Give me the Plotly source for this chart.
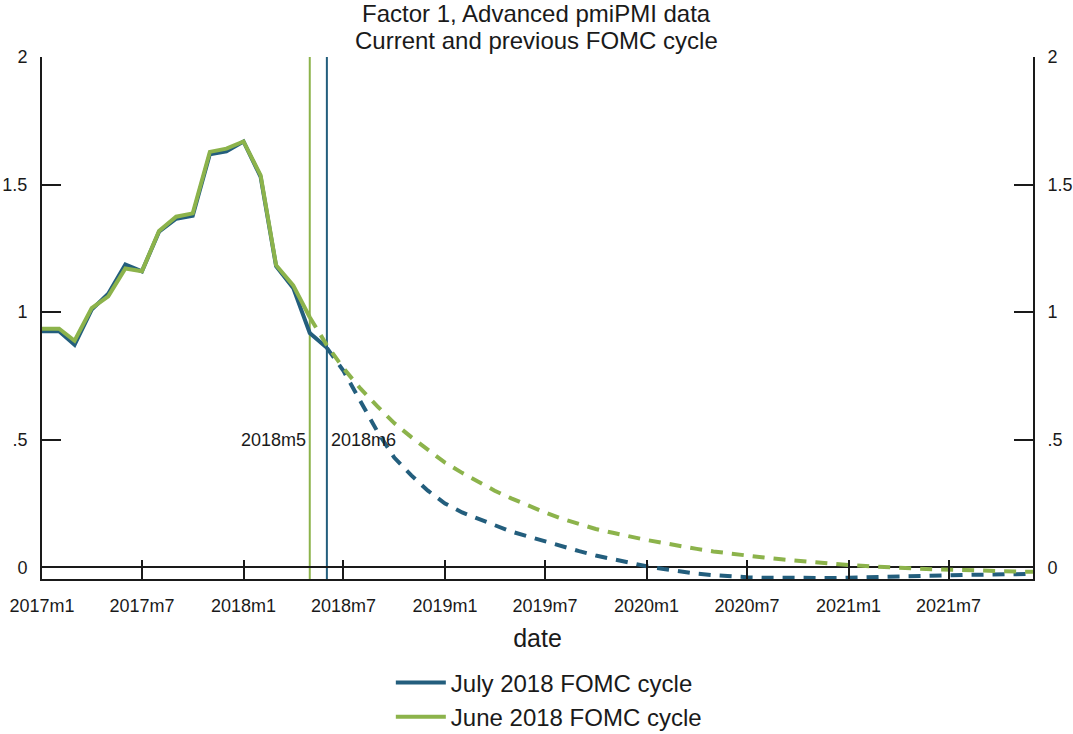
import pandas as pd
import plotly.graph_objects as go

# Monthly axis, 2017m1 .. 2021m12
months = pd.date_range("2017-01-01", "2021-12-01", freq="MS")

# July 2018 FOMC cycle: observed factor (2017m1..2018m6) and projection (2018m6..2021m12)
july_actual = [0.925, 0.925, 0.872, 1.010, 1.072, 1.187, 1.160, 1.315, 1.366, 1.378,
               1.619, 1.630, 1.669, 1.530, 1.180, 1.095, 0.918, 0.860]
july_forecast = [0.86, 0.77, 0.65, 0.53, 0.43, 0.36, 0.30, 0.25, 0.215, 0.19,
                 0.165, 0.14, 0.12, 0.10, 0.08, 0.063, 0.046, 0.031, 0.017, 0.004,
                 -0.007, -0.017, -0.025, -0.031, -0.036, -0.039, -0.041, -0.042, -0.043, -0.043,
                 -0.042, -0.041, -0.040, -0.038, -0.037, -0.035, -0.033, -0.032, -0.030, -0.029,
                 -0.028, -0.027, -0.026]

# June 2018 FOMC cycle: observed factor (2017m1..2018m5) and projection (2018m5..2021m12)
june_actual = [0.935, 0.935, 0.888, 1.016, 1.062, 1.171, 1.160, 1.318, 1.374, 1.387,
               1.628, 1.641, 1.669, 1.536, 1.184, 1.105, 0.980]
june_forecast = [0.98, 0.87, 0.78, 0.70, 0.63, 0.565, 0.51, 0.46, 0.41, 0.37,
                 0.335, 0.30, 0.27, 0.24, 0.215, 0.19, 0.17, 0.15, 0.135, 0.12,
                 0.107, 0.095, 0.083, 0.072, 0.062, 0.053, 0.045, 0.038, 0.031, 0.025,
                 0.019, 0.014, 0.009, 0.005, 0.001, -0.002, -0.005, -0.008, -0.010, -0.012,
                 -0.014, -0.016, -0.017, -0.018]

# Vertical markers for the two cycles
cycle_dates = ["2018-05-01", "2018-06-01"]
cycle_labels = ["2018m5", "2018m6"]

# Axis ticks
x_tickvals = pd.date_range("2017-01-01", "2021-07-01", freq="6MS")
x_ticktext = [f"{d.year}m{d.month}" for d in x_tickvals]
y_tickvals = [0, 0.5, 1, 1.5, 2]
y_ticktext = ["0", ".5", "1", "1.5", "2"]

BLUE = "#235e7d"
GREEN = "#8cb34b"
INK = "#1a1a1a"
FONT = "Liberation Sans, Arial, sans-serif"
Y_MIN, Y_MAX = -0.046, 2.0

n_july = len(july_actual)
n_june = len(june_actual)

fig = go.Figure()

fig.add_trace(go.Scatter(
    x=months[:n_july], y=july_actual, mode="lines",
    line=dict(color=BLUE, width=4), name="July 2018 FOMC cycle"))
fig.add_trace(go.Scatter(
    x=months[n_july - 1:], y=july_forecast, mode="lines",
    line=dict(color=BLUE, width=4, dash="12px,9px"), showlegend=False))
fig.add_trace(go.Scatter(
    x=months[:n_june], y=june_actual, mode="lines",
    line=dict(color=GREEN, width=4), name="June 2018 FOMC cycle"))
fig.add_trace(go.Scatter(
    x=months[n_june - 1:], y=june_forecast, mode="lines",
    line=dict(color=GREEN, width=4, dash="12px,9px"), showlegend=False))

# carrier trace so the right-hand axis is drawn
fig.add_trace(go.Scatter(
    x=months[:n_july], y=july_actual, yaxis="y2", mode="lines",
    line=dict(color="rgba(0,0,0,0)", width=0), showlegend=False, hoverinfo="skip"))

for d, col in zip(cycle_dates, [GREEN, BLUE]):
    fig.add_shape(type="line", xref="x", yref="y", x0=d, x1=d, y0=Y_MIN, y1=Y_MAX,
                  line=dict(color=col, width=2), layer="below")

fig.add_annotation(x=cycle_dates[0], y=0.5, xref="x", yref="y", text=cycle_labels[0],
                   showarrow=False, xanchor="right", xshift=-2,
                   font=dict(size=18, color=INK, family=FONT))
fig.add_annotation(x=cycle_dates[1], y=0.5, xref="x", yref="y", text=cycle_labels[1],
                   showarrow=False, xanchor="left", xshift=2,
                   font=dict(size=18, color=INK, family=FONT))

# two-line title
fig.add_annotation(x=0.4988, y=1, xref="paper", yref="paper", yshift=44,
                   text="Factor 1, Advanced pmiPMI data", showarrow=False,
                   xanchor="center", yanchor="middle",
                   font=dict(size=24, color=INK, family=FONT))
fig.add_annotation(x=0.4988, y=1, xref="paper", yref="paper", yshift=17,
                   text="Current and previous FOMC cycle", showarrow=False,
                   xanchor="center", yanchor="middle",
                   font=dict(size=24, color=INK, family=FONT))

yaxis_common = dict(
    range=[Y_MIN, Y_MAX], tickmode="array", tickvals=y_tickvals, ticktext=y_ticktext,
    ticks="inside", ticklen=19, tickwidth=2, tickcolor=INK,
    showline=True, linecolor=INK, linewidth=2, showgrid=False,
    tickfont=dict(size=18, color=INK, family=FONT), fixedrange=True,
    ticklabelstandoff=9,
)

fig.update_layout(
    width=1073, height=734,
    margin=dict(l=42, r=40, t=57, b=155, autoexpand=False),
    paper_bgcolor="white", plot_bgcolor="white",
    font=dict(family=FONT, color=INK),
    xaxis=dict(
        range=[months[0], months[-1]], tickmode="array",
        tickvals=x_tickvals, ticktext=x_ticktext,
        ticks="inside", ticklen=19, tickwidth=2, tickcolor=INK,
        showline=True, linecolor=INK, linewidth=2, showgrid=False, zeroline=False,
        tickfont=dict(size=18, color=INK, family=FONT), ticklabelstandoff=9,
        title=dict(text="date", font=dict(size=25, color=INK, family=FONT), standoff=15),
    ),
    yaxis=dict(**yaxis_common, side="left", zeroline=True, zerolinecolor=INK, zerolinewidth=2),
    yaxis2=dict(**yaxis_common, side="right", overlaying="y", zeroline=False),
    legend=dict(
        orientation="v", x=0.352, y=-0.156, xanchor="left", yanchor="top",
        font=dict(size=24, color=INK, family=FONT), tracegroupgap=0, itemwidth=50,
        bgcolor="rgba(0,0,0,0)",
    ),
    showlegend=True,
)

fig.write_html("out.html")
